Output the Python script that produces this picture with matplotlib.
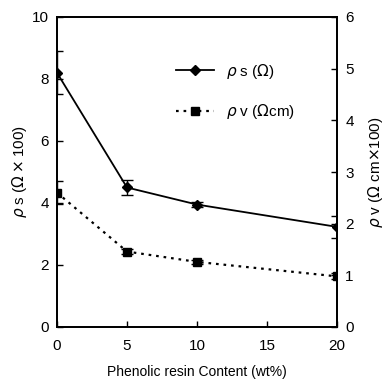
import numpy as np
import matplotlib.pyplot as plt
from matplotlib.lines import Line2D

plt.rcParams['font.family'] = ['Liberation Sans', 'DejaVu Sans']

content = [0, 5, 10, 20]
rho_s = [8.2, 4.5, 3.95, 3.23]
rho_s_err = [0.7, 0.25, 0.08, 0.35]
rho_v = [2.6, 1.46, 1.26, 0.98]
rho_v_err = [0.22, 0.05, 0.04, 0.06]

fig = plt.figure(figsize=(3.87, 3.92), dpi=100)
ax = fig.add_axes([57 / 387, 65 / 392, 280 / 387, 310 / 392])
ax2 = ax.twinx()

s_style = dict(color='black', lw=1.3, marker='D', markersize=5)
v_style = dict(color='black', lw=1.6, ls=(0, (1.2, 2.2)), marker='s', markersize=6)

ax.errorbar(content, rho_s, yerr=rho_s_err, capsize=4, elinewidth=1, **s_style)
ax2.errorbar(content, rho_v, yerr=rho_v_err, capsize=4, elinewidth=1, **v_style)

ax.set_xlim(0, 20)
ax.set_ylim(0, 10)
ax2.set_ylim(0, 6)
ax.set_xticks([0, 5, 10, 15, 20])
ax.set_yticks([0, 2, 4, 6, 8, 10])
ax2.set_yticks([0, 1, 2, 3, 4, 5, 6])

for a in (ax, ax2):
    a.tick_params(direction='in', length=4, width=1, labelsize=11, pad=6)
    for s in a.spines.values():
        s.set_linewidth(1.3)
ax.tick_params(axis='x', pad=9)

ax.set_xlabel('Phenolic resin Content (wt%)', fontsize=10, labelpad=8)
ax.set_ylabel(r'$\rho$ s ($\Omega\times$100)', fontsize=11, labelpad=2)
ax2.set_ylabel(r'$\rho$ v ($\Omega$ cm$\times$100)', fontsize=11, labelpad=9)

handles = [Line2D([], [], **s_style), Line2D([], [], **v_style)]
labels = [r'$\rho$ s ($\Omega$)', r'$\rho$ v ($\Omega$cm)']
ax.legend(handles, labels, loc='upper right', bbox_to_anchor=(0.9, 0.9),
          frameon=False, fontsize=11, handlelength=2.5, labelspacing=1.4)

fig.savefig('out.png', dpi=100)
